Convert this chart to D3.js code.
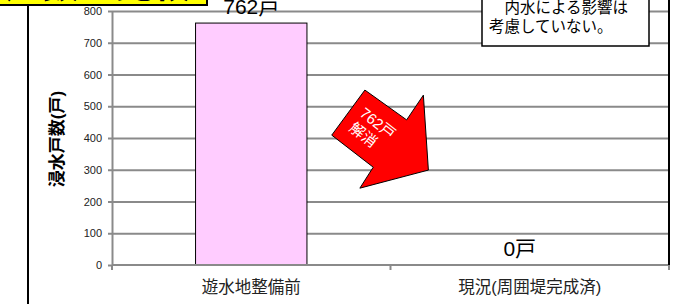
<!DOCTYPE html>
<html>
<head>
<meta charset="utf-8">
<script src="https://cdn.jsdelivr.net/npm/d3@7"></script>
<style>
  body { margin: 0; background: #fff; }
  svg { display: block; font-family: "Liberation Sans", "Noto Sans CJK JP", sans-serif; }
</style>
</head>
<body>
<div id="chart"></div>
<script>
// data
var categories = ['遊水地整備前', '現況(周囲堤完成済)'];
var values = [762, 0];
var value_labels = ['762戸', '0戸'];
var y_ticks = [0, 100, 200, 300, 400, 500, 600, 700, 800];
var y_title = '浸水戸数(戸)';
var title_text = '浸水戸数の比較';
var note_lines = ['\u3000内水による影響は', '考慮していない。'];
var arrow_text = ['762戸', '解消'];
// arrow outline in chart units: [category position, value]
var arrow_pts = [[0.789, 409], [0.908, 551], [1.058, 457], [1.118, 535],
                 [1.136, 299], [0.890, 242], [0.938, 308]];

var width = 697, height = 304;
var plot = {left: 112, right: 669, top: 11, bottom: 265};

var svg = d3.select('#chart').append('svg')
    .attr('width', width)
    .attr('height', height);

var x = d3.scaleBand()
    .domain(categories)
    .range([plot.left, plot.right])
    .paddingInner(0.6)
    .paddingOuter(0.3);

// continuous position across the categories (0..n)
var xpos = d3.scaleLinear()
    .domain([0, categories.length])
    .range([plot.left, plot.right]);

var y = d3.scaleLinear()
    .domain([0, 800])
    .range([plot.bottom, plot.top]);

var grid_color = '#8a8a8a';

// gridlines
svg.append('g')
    .attr('transform', 'translate(' + plot.left + ',0)')
    .call(d3.axisLeft(y).tickValues(y_ticks.slice(1)).tickSize(-(plot.right - plot.left)).tickFormat(''))
    .call(function(g) {
        g.select('.domain').remove();
        g.selectAll('line').attr('stroke', grid_color).attr('stroke-width', 2);
    });

// y axis
svg.append('g')
    .attr('transform', 'translate(' + plot.left + ',0)')
    .call(d3.axisLeft(y).tickValues(y_ticks).tickSize(4).tickSizeOuter(0).tickPadding(6))
    .call(function(g) {
        g.select('.domain').attr('stroke', grid_color).attr('stroke-width', 2);
        g.selectAll('line').attr('stroke', grid_color).attr('stroke-width', 2);
        g.selectAll('text')
            .attr('fill', '#222')
            .style('font-size', '11px')
            .style('font-family', '"Liberation Sans", sans-serif');
    });

// bars
svg.selectAll('.bar')
    .data(values)
    .enter()
    .append('rect')
    .attr('class', 'bar')
    .attr('x', function(d, i) { return x(categories[i]); })
    .attr('y', function(d) { return y(d); })
    .attr('width', x.bandwidth())
    .attr('height', function(d) { return y(0) - y(d); })
    .attr('fill', '#ffccff')
    .attr('stroke', '#000')
    .attr('stroke-width', function(d) { return d > 0 ? 1 : 0; });

// x axis line + category ticks
svg.append('line')
    .attr('x1', plot.left).attr('x2', plot.right)
    .attr('y1', y(0)).attr('y2', y(0))
    .attr('stroke', grid_color).attr('stroke-width', 2);

svg.selectAll('.xtick')
    .data(d3.range(categories.length + 1))
    .enter()
    .append('line')
    .attr('class', 'xtick')
    .attr('x1', function(d) { return xpos(d); })
    .attr('x2', function(d) { return xpos(d); })
    .attr('y1', y(0))
    .attr('y2', y(0) + 5)
    .attr('stroke', grid_color)
    .attr('stroke-width', 2);

// category labels
svg.selectAll('.cat')
    .data(categories)
    .enter()
    .append('text')
    .attr('class', 'cat')
    .attr('x', function(d) { return x(d) + x.bandwidth() / 2; })
    .attr('y', 293)
    .attr('text-anchor', 'middle')
    .attr('fill', '#222')
    .style('font-size', '16.5px')
    .text(function(d) { return d; });

// value labels
svg.selectAll('.vlabel')
    .data(values)
    .enter()
    .append('text')
    .attr('class', 'vlabel')
    .attr('x', function(d, i) { return x(categories[i]) + x.bandwidth() / 2 + (d > 0 ? 0 : -10); })
    .attr('y', function(d) { return y(d) - 9; })
    .attr('text-anchor', 'middle')
    .attr('fill', '#000')
    .style('font-size', '21px')
    .text(function(d, i) { return value_labels[i]; });

// right frame line of the plot
svg.append('line')
    .attr('x1', plot.right).attr('x2', plot.right)
    .attr('y1', 0).attr('y2', y(0))
    .attr('stroke', '#000').attr('stroke-width', 2);

// left outer frame line
svg.append('line')
    .attr('x1', 28).attr('x2', 28)
    .attr('y1', 0).attr('y2', height)
    .attr('stroke', '#000').attr('stroke-width', 2);

// y axis title
svg.append('text')
    .attr('transform', 'translate(63,139) rotate(-90)')
    .attr('text-anchor', 'middle')
    .attr('fill', '#000')
    .style('font-size', '17px')
    .style('font-weight', 'bold')
    .text(y_title);

// arrow annotation
svg.append('polygon')
    .attr('points', arrow_pts.map(function(p) { return xpos(p[0]) + ',' + y(p[1]); }).join(' '))
    .attr('fill', '#ff0000')
    .attr('stroke', '#000')
    .attr('stroke-width', 1);

var arrow_label = svg.append('g')
    .attr('transform', 'translate(' + xpos(0.93) + ',' + y(430) + ') rotate(38)');

arrow_label.selectAll('text')
    .data(arrow_text)
    .enter()
    .append('text')
    .attr('x', function(d, i) { return i == 0 ? 2 : -2; })
    .attr('y', function(d, i) { return -3 + i * 18; })
    .attr('text-anchor', 'middle')
    .attr('fill', '#fff')
    .style('font-size', '15px')
    .text(function(d) { return d; });

// note box (top right)
svg.append('rect')
    .attr('x', 482).attr('y', -20)
    .attr('width', 167).attr('height', 66)
    .attr('fill', '#fff')
    .attr('stroke', '#000')
    .attr('stroke-width', 1.5);

svg.selectAll('.note')
    .data(note_lines)
    .enter()
    .append('text')
    .attr('class', 'note')
    .attr('x', 489)
    .attr('y', function(d, i) { return 13 + i * 19; })
    .attr('fill', '#000')
    .style('font-size', '15.5px')
    .text(function(d) { return d; });

// title box (top left, mostly cut off)
svg.append('rect')
    .attr('x', -5).attr('y', -40)
    .attr('width', 212).attr('height', 45)
    .attr('fill', '#ffff00')
    .attr('stroke', '#000')
    .attr('stroke-width', 2);

svg.append('text')
    .attr('x', -69)
    .attr('y', -2)
    .attr('fill', '#000')
    .style('font-size', '37px')
    .style('font-weight', 'bold')
    .text(title_text);
</script>
</body>
</html>
